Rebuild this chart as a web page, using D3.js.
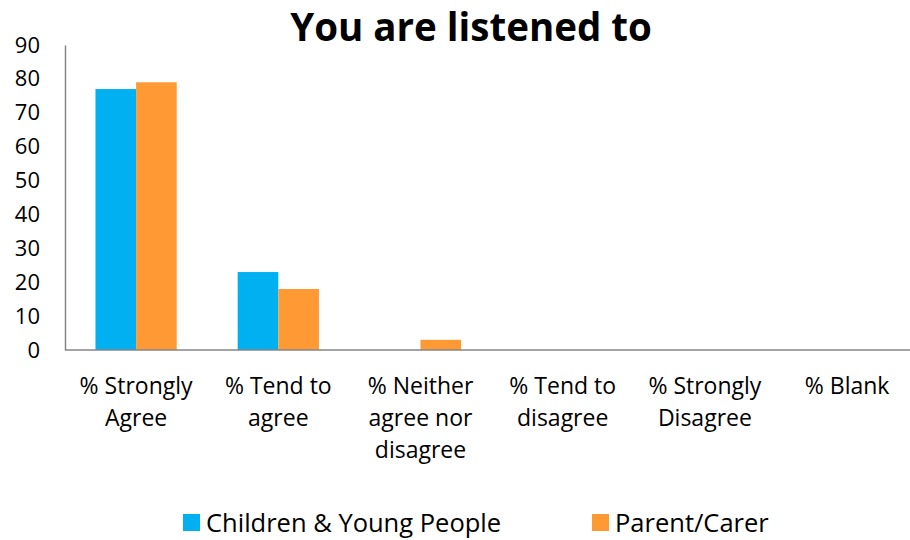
<!DOCTYPE html>
<html>
<head>
<meta charset="utf-8">
<script src="https://cdn.jsdelivr.net/npm/d3@7"></script>
<style>
  html, body { margin: 0; padding: 0; background: #fff; }
  svg { display: block; font-family: "Open Sans", "Noto Sans", sans-serif; }
</style>
</head>
<body>
<svg id="chart" width="910" height="540"></svg>
<script>
const categories = [
  ["% Strongly", "Agree"],
  ["% Tend to", "agree"],
  ["% Neither", "agree nor", "disagree"],
  ["% Tend to", "disagree"],
  ["% Strongly", "Disagree"],
  ["% Blank"]
];
const seriesNames = ["Children & Young People", "Parent/Carer"];
const seriesColors = ["#00B0F0", "#FF9933"];
const childrenValues = [77, 23, 0, 0, 0, 0];
const parentValues = [79, 18, 3, 0, 0, 0];
const yTicks = [0, 10, 20, 30, 40, 50, 60, 70, 80, 90];

(function draw() {
  const svg = d3.select("#chart");
  const plotLeft = 65, bandW = 142.2, plotTop = 45, plotBottom = 350;

  const x = d3.scaleBand()
    .domain(d3.range(categories.length))
    .range([plotLeft, plotLeft + bandW * categories.length])
    .paddingInner(0).paddingOuter(0);
  const barW = bandW / 3.5;
  const sub = d3.scaleBand().domain([0, 1]).range([0, 2 * barW]);
  const y = d3.scaleLinear().domain([0, 90]).range([plotBottom, plotTop]);

  // Title
  svg.append("text")
    .attr("x", 471).attr("y", 41)
    .attr("text-anchor", "middle")
    .attr("font-size", 38.5).attr("font-weight", "bold")
    .attr("fill", "#000")
    .text("You are listened to");

  // Bars
  const series = [childrenValues, parentValues];
  series.forEach((vals, si) => {
    svg.append("g").selectAll("rect")
      .data(vals)
      .join("rect")
      .attr("x", (d, i) => x(i) + (bandW - 2 * barW) / 2 + sub(si))
      .attr("y", d => y(d))
      .attr("width", sub.bandwidth())
      .attr("height", d => y(0) - y(d))
      .attr("fill", seriesColors[si])
      .attr("display", d => d > 0 ? null : "none");
  });

  // Y axis
  const yAxis = d3.axisLeft(y).tickValues(yTicks).tickSize(0).tickPadding(25);
  const yg = svg.append("g").attr("transform", `translate(${plotLeft},0)`).call(yAxis);
  yg.select(".domain").attr("stroke", "#868686").attr("stroke-width", 1.5);
  yg.selectAll("text").attr("font-size", 22).attr("fill", "#000")
    .attr("font-family", "'Open Sans', 'Noto Sans', sans-serif");

  // X axis baseline
  svg.append("line")
    .attr("x1", plotLeft).attr("x2", 910)
    .attr("y1", y(0)).attr("y2", y(0))
    .attr("stroke", "#868686").attr("stroke-width", 1.5);

  // Category labels
  const lab = svg.append("g").selectAll("text")
    .data(categories)
    .join("text")
    .attr("x", (d, i) => x(i) + bandW / 2)
    .attr("y", 394)
    .attr("text-anchor", "middle")
    .attr("font-size", 23)
    .attr("fill", "#000");
  lab.selectAll("tspan")
    .data(d => d)
    .join("tspan")
    .attr("x", function() { return d3.select(this.parentNode).attr("x"); })
    .attr("dy", (d, i) => i === 0 ? 0 : 32)
    .text(d => d);

  // Legend
  const legendX = [183, 592];
  const lg = svg.append("g").selectAll("g")
    .data(seriesNames)
    .join("g")
    .attr("transform", (d, i) => `translate(${legendX[i]},514)`);
  lg.append("rect")
    .attr("width", 17).attr("height", 17)
    .attr("fill", (d, i) => seriesColors[i]);
  lg.append("text")
    .attr("x", 23).attr("y", 18)
    .attr("font-size", 25.5)
    .attr("fill", "#000")
    .text(d => d);
})();
</script>
</body>
</html>
